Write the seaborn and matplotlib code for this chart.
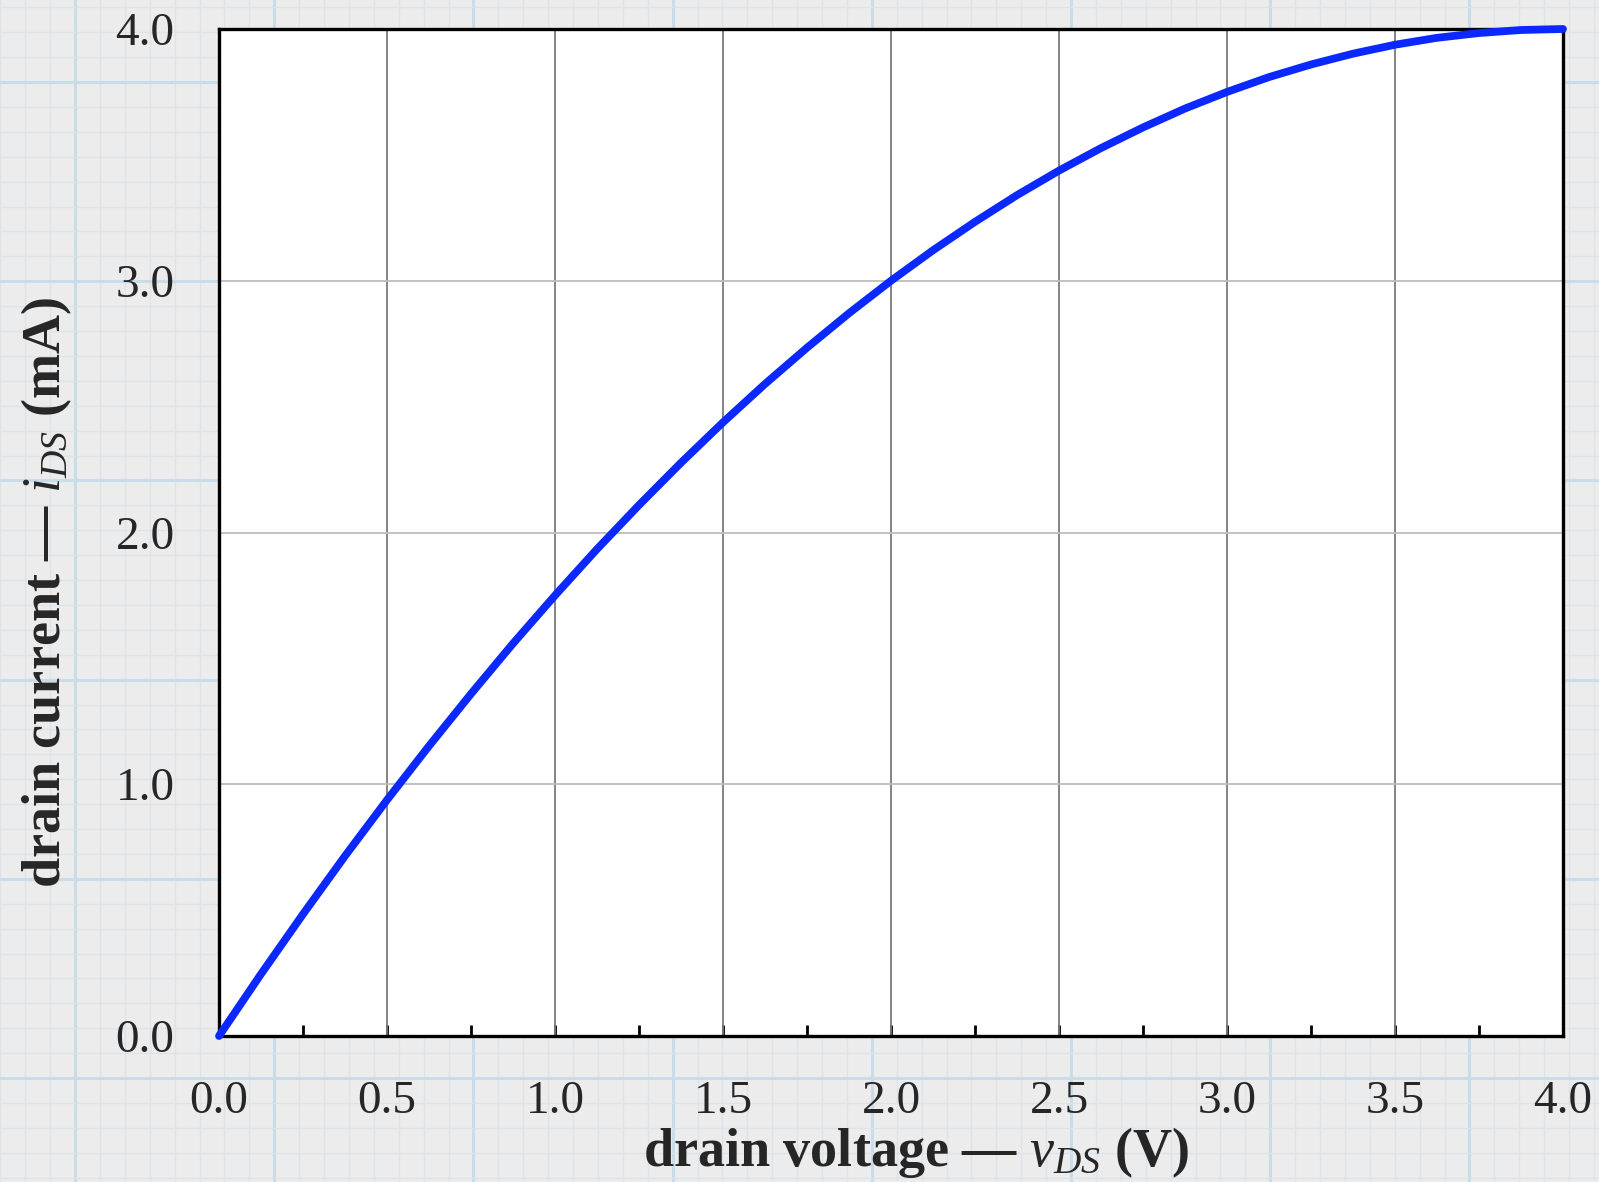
import numpy as np
import pandas as pd
import matplotlib
matplotlib.use("Agg")
import matplotlib.pyplot as plt
import seaborn as sns
from matplotlib.lines import Line2D

# ---- data ----
v_ds = [0.0, 0.125, 0.25, 0.375, 0.5, 0.625, 0.75, 0.875, 1.0, 1.125, 1.25, 1.375,
        1.5, 1.625, 1.75, 1.875, 2.0, 2.125, 2.25, 2.375, 2.5, 2.625, 2.75, 2.875,
        3.0, 3.125, 3.25, 3.375, 3.5, 3.625, 3.75, 3.875, 4.0]
i_ds = [0.0, 0.246, 0.484, 0.715, 0.9375, 1.152, 1.359, 1.559, 1.75, 1.934, 2.109, 2.277,
        2.4375, 2.590, 2.734, 2.871, 3.0, 3.121, 3.234, 3.340, 3.4375, 3.527, 3.609, 3.684,
        3.75, 3.809, 3.859, 3.902, 3.9375, 3.965, 3.984, 3.996, 4.0]
x_ticks = [0.0, 0.5, 1.0, 1.5, 2.0, 2.5, 3.0, 3.5, 4.0]
x_tick_labels = ["0.0", "0.5", "1.0", "1.5", "2.0", "2.5", "3.0", "3.5", "4.0"]
y_ticks = [0.0, 1.0, 2.0, 3.0, 4.0]
y_tick_labels = ["0.0", "1.0", "2.0", "3.0", "4.0"]

df = pd.DataFrame({"v": v_ds, "i": i_ds})

sns.set_theme(style="white")
plt.rcParams["font.family"] = ["Liberation Serif", "DejaVu Serif"]
plt.rcParams["mathtext.fontset"] = "custom"
plt.rcParams["mathtext.rm"] = "Liberation Serif"
plt.rcParams["mathtext.it"] = "Liberation Serif:italic"
plt.rcParams["mathtext.bf"] = "Liberation Serif:bold"

W, H = 1599, 1182
fig = plt.figure(figsize=(W / 100, H / 100), dpi=100)
fig.patch.set_facecolor("#ececec")

# graph-paper background
minor = 24.9
for k in range(-4, 80):
    x = 75 + k * minor
    if 0 <= x <= W:
        major = (k % 8 == 0)
        fig.add_artist(Line2D([x / W, x / W], [0, 1], transform=fig.transFigure,
                              color="#c9dcea" if major else "#dbe4eb",
                              lw=2.2 if major else 1.0, zorder=0))
for k in range(-4, 60):
    y = 82 + k * minor
    if 0 <= y <= H:
        major = (k % 8 == 0)
        fy = 1 - y / H
        fig.add_artist(Line2D([0, 1], [fy, fy], transform=fig.transFigure,
                              color="#c9dcea" if major else "#dbe4eb",
                              lw=2.2 if major else 1.0, zorder=0))

L, R, T, B = 219, 1563, 29, 1036
ax = fig.add_axes([L / W, 1 - B / H, (R - L) / W, (B - T) / H])
ax.set_facecolor("white")
ax.set_zorder(2)

sns.lineplot(data=df, x="v", y="i", ax=ax, color="#0a28ff", lw=5.6,
             clip_on=False, zorder=5)

ax.set_xlim(0, 4)
ax.set_ylim(0, 4)
ax.set_xticks(x_ticks)
ax.set_xticklabels(x_tick_labels)
ax.set_xticks(np.arange(0.25, 4.0, 0.5), minor=True)
ax.set_yticks(y_ticks)
ax.set_yticklabels(y_tick_labels)

for x in x_ticks[1:-1]:
    ax.axvline(x, color="#7a7a7a", lw=1.3, zorder=1)
for y in y_ticks[1:-1]:
    ax.axhline(y, color="#bdbdbd", lw=1.3, zorder=1)

ax.tick_params(axis="x", which="both", direction="in", bottom=True, top=False,
               length=8, width=2, color="black", labelsize=34, pad=32)
ax.tick_params(axis="y", which="both", left=False, labelsize=34, pad=26)
for s in ax.spines.values():
    s.set_linewidth(2.4)
    s.set_color("black")

ax.set_xlabel(r"drain voltage — $v_{DS}$ (V)", fontsize=39, fontweight="bold")
ax.set_ylabel(r"drain current — $i_{DS}$ (mA)", fontsize=39, fontweight="bold")
ax.xaxis.set_label_coords(0.5186, -0.088)
ax.yaxis.set_label_coords(-0.108, 0.441)

fig.savefig("out.png", dpi=100, facecolor=fig.get_facecolor())
